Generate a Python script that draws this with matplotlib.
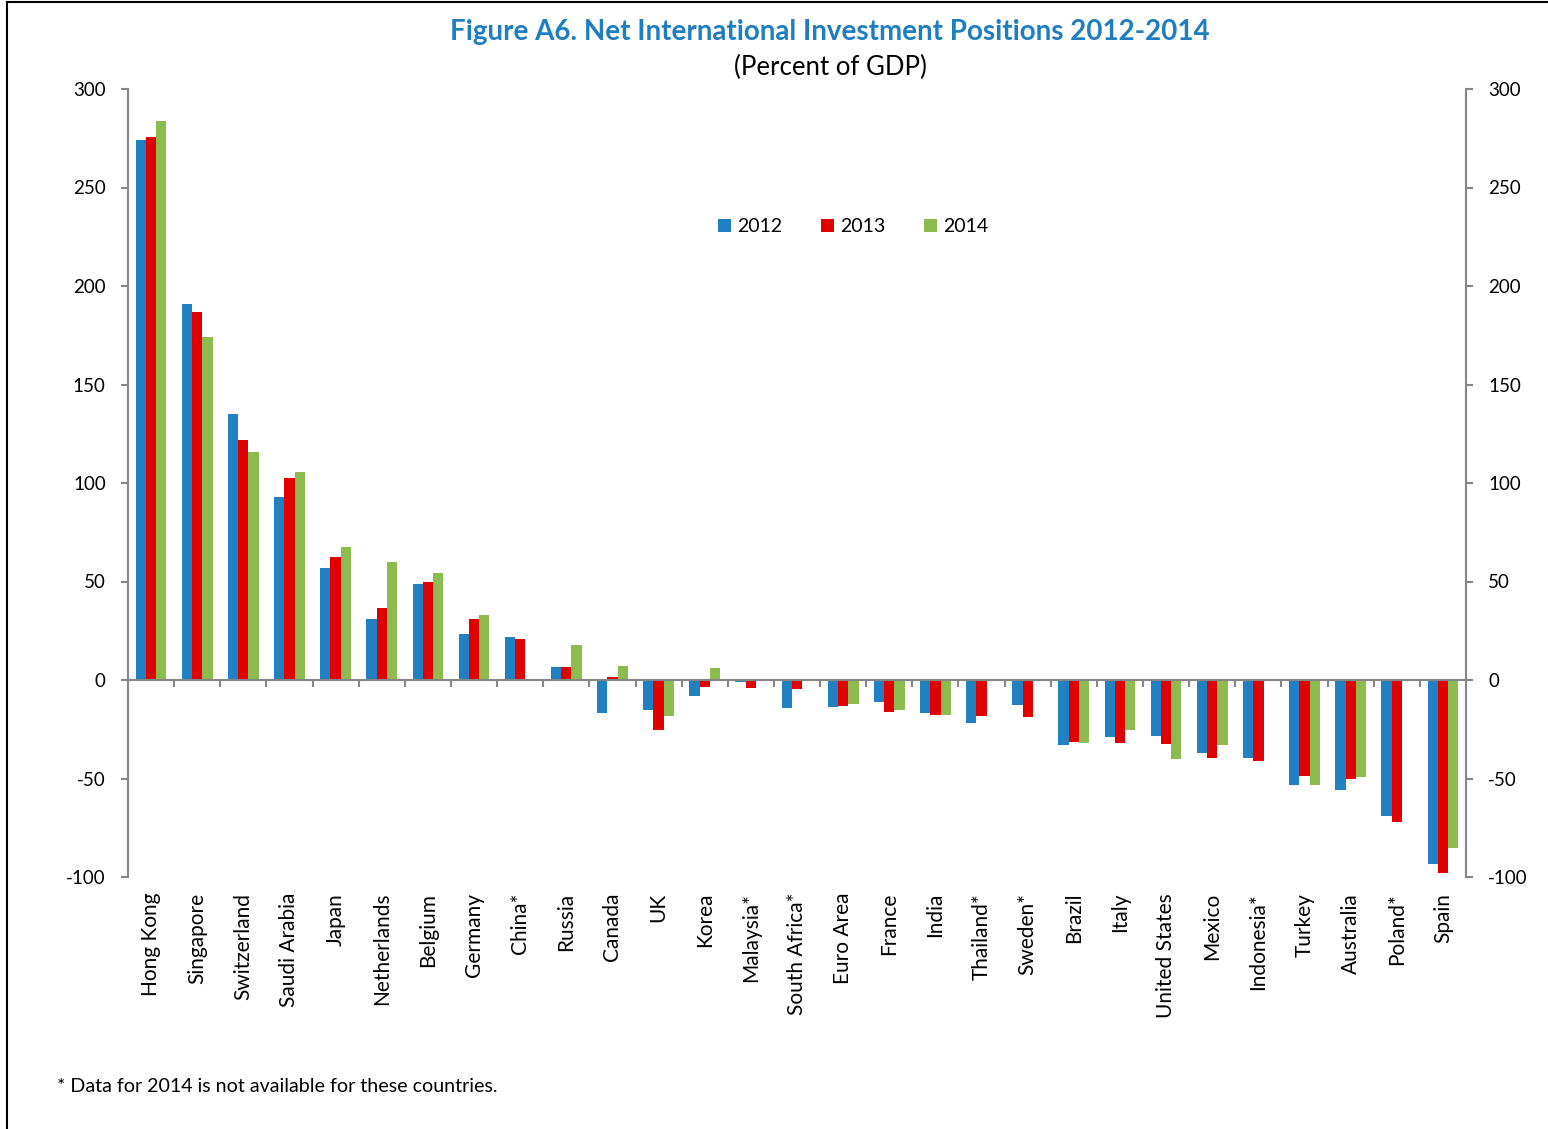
import matplotlib.pyplot as plt
import numpy as np
from matplotlib.patches import Patch
from matplotlib.lines import Line2D
import matplotlib.transforms as mtransforms

plt.rcParams['font.family'] = ['Lato', 'DejaVu Sans']
plt.rcParams['axes.unicode_minus'] = False

countries = ["Hong Kong", "Singapore", "Switzerland", "Saudi Arabia", "Japan",
             "Netherlands", "Belgium", "Germany", "China*", "Russia", "Canada",
             "UK", "Korea", "Malaysia*", "South Africa*", "Euro Area", "France",
             "India", "Thailand*", "Sweden*", "Brazil", "Italy", "United States",
             "Mexico", "Indonesia*", "Turkey", "Australia", "Poland*", "Spain"]

niip_2012 = [274, 191, 135, 93, 57, 31, 48.5, 23.5, 22, 6.5, -17,
             -15, -8, -1, -14, -13.5, -11, -16.5, -22, -12.5, -33, -29, -28.5,
             -37, -39.5, -53.5, -56, -69, -93.5]
niip_2013 = [275.5, 187, 122, 102.5, 62.5, 36.5, 50, 31, 21, 6.5, 1.5,
             -25.5, -3.5, -4, -4.5, -13, -16, -18, -18.5, -19, -31.5, -32, -32.5,
             -39.5, -41, -48.5, -50, -72, -98]
niip_2014 = [284, 174, 115.5, 105.5, 67.5, 60, 54.5, 33, np.nan, 18, 7,
             -18.5, 6, np.nan, np.nan, -12, -15, -18, np.nan, np.nan, -32, -25.5, -40,
             -33, np.nan, -53.5, -49, np.nan, -85.5]

years = ["2012", "2013", "2014"]
colors = ["#2180C2", "#E00000", "#8DBB50"]
axis_grey = "#868686"

fig = plt.figure(figsize=(15.48, 11.29), dpi=100)
W, H = 1548, 1129
ax = fig.add_axes([128 / W, 1 - 877 / H, (1466 - 128) / W, (877 - 89) / H])

x = np.arange(len(countries))
width = 0.222
for k, vals in enumerate([niip_2012, niip_2013, niip_2014]):
    ax.bar(x + (k - 1) * width, vals, width, color=colors[k], linewidth=0)

ax.set_xlim(-0.5, len(countries) - 0.5)
ax.set_ylim(-100, 300)
ax.set_yticks(np.arange(-100, 301, 50))

# x axis drawn through zero, ticks at category boundaries
ax.spines['bottom'].set_position(('data', 0))
ax.spines['top'].set_visible(False)
for s in ['bottom', 'left', 'right']:
    ax.spines[s].set_color(axis_grey)
    ax.spines[s].set_linewidth(1.5)
ax.set_xticks(np.arange(-0.5, len(countries), 1.0))
ax.tick_params(axis='x', direction='out', length=5, width=1.5, color=axis_grey,
               labelbottom=False)
ax.tick_params(axis='y', direction='out', length=5, width=1.5, color=axis_grey,
               left=True, right=True, labelleft=True, labelright=True,
               labelsize=13.5, pad=11)

trans = mtransforms.blended_transform_factory(ax.transData, ax.transAxes)
for i, name in enumerate(countries):
    ax.text(i, -0.02, name, transform=trans, rotation=90, ha='center', va='top',
            fontsize=15)

handles = [Patch(facecolor=c, edgecolor='none', label=y) for c, y in zip(colors, years)]
fig.legend(handles=handles, loc='center', bbox_to_anchor=(853 / W, 1 - 227 / H),
           ncol=3, frameon=False, fontsize=14, handlelength=0.68, handleheight=0.68,
           handletextpad=0.3, columnspacing=2.0)

fig.text(830 / W, 1 - 32 / H, "Figure A6. Net International Investment Positions 2012-2014",
         ha='center', va='center', fontsize=20, fontweight='bold', color="#1F7DC1")
fig.text(830 / W, 1 - 67 / H, "(Percent of GDP)", ha='center', va='center', fontsize=18.5)
fig.text(57 / W, 1 - 1086 / H, "* Data for 2014 is not available for these countries.",
         ha='left', va='center', fontsize=14.1)

# frame around the figure (left and top edges visible)
fig.add_artist(Line2D([7 / W, 7 / W], [0, 1 - 2 / H], color='black', linewidth=1.5))
fig.add_artist(Line2D([7 / W, 1], [1 - 2 / H, 1 - 2 / H], color='black', linewidth=1.5))

fig.savefig("out.png", dpi=100)
